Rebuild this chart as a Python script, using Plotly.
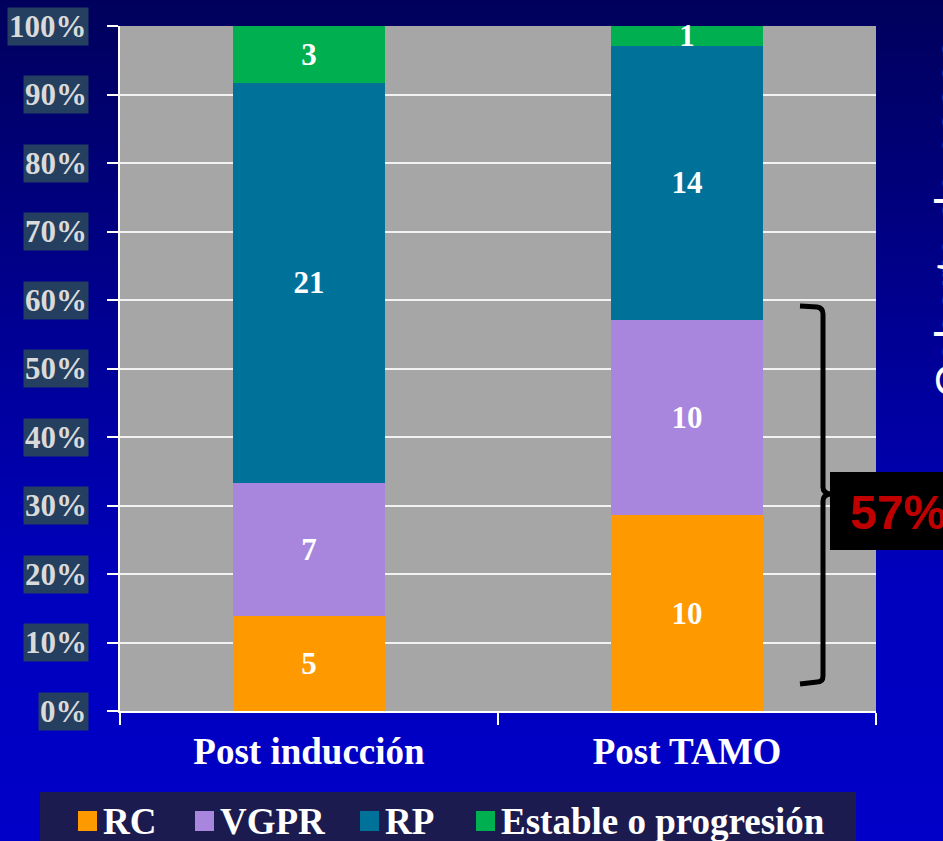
import base64
import plotly.graph_objects as go

# ---- data ----
categories = ["Post inducción", "Post TAMO"]
series_names = ["RC", "VGPR", "RP", "Estable o progresión"]
rc_values = [5, 10]
vgpr_values = [7, 10]
rp_values = [21, 14]
estable_values = [3, 1]
y_tick_values = [0, 10, 20, 30, 40, 50, 60, 70, 80, 90, 100]
y_tick_labels = ["0%", "10%", "20%", "30%", "40%", "50%", "60%", "70%", "80%", "90%", "100%"]
bracket_label = "57%"
side_text = "Cohorte de casos"

colors = ["#FF9900", "#A886DD", "#00729A", "#00AF50"]
all_values = [rc_values, vgpr_values, rp_values, estable_values]

W, H = 943, 841
ML, MR, MT, MB = 120, 67, 26, 130
PW, PH = W - ML - MR, H - MT - MB


def px(x):
    return (x - ML) / PW


def py(y):
    return (H - MB - y) / PH


serif = "Liberation Serif, Times New Roman, serif"
sans = "Liberation Sans, Arial, sans-serif"

fig = go.Figure()
for name, vals, col in zip(series_names, all_values, colors):
    fig.add_trace(go.Bar(
        x=categories, y=vals, name=name, marker=dict(color=col, line=dict(width=0)),
        text=[str(v) for v in vals], textposition="inside", insidetextanchor="middle",
        textangle=0, textfont=dict(family=serif, size=31, color="white", weight="bold"),
        width=0.4, showlegend=False, hoverinfo="skip", cliponaxis=False,
    ))

# background gradient (whole page)
svg = ('<svg xmlns="http://www.w3.org/2000/svg" width="943" height="841">'
       '<defs><linearGradient id="g" x1="0" y1="0" x2="0" y2="1">'
       '<stop offset="0" stop-color="#00005C"/>'
       '<stop offset="0.7" stop-color="#0000BE"/>'
       '<stop offset="1" stop-color="#0000C8"/>'
       '</linearGradient></defs>'
       '<rect width="943" height="841" fill="url(#g)"/></svg>')
src = "data:image/svg+xml;base64," + base64.b64encode(svg.encode()).decode()

annotations = []
# y tick labels with boxed background
for v, lab in zip(y_tick_values, y_tick_labels):
    annotations.append(dict(
        x=px(89), xref="paper", y=v, yref="y", xanchor="right", yanchor="middle",
        text="<b>%s</b>" % lab, showarrow=False, bgcolor="#243F60", borderpad=1,
        font=dict(family=serif, size=31, color="#DADADA"),
    ))

# 57% label
annotations.append(dict(
    x=px(848), xref="paper", y=py(512), yref="paper", xanchor="left", yanchor="middle",
    text="<b>%s</b>" % bracket_label, showarrow=False,
    font=dict(family=sans, size=48, color="#C00000"),
))
# clipped rotated side text
annotations.append(dict(
    x=px(952), xref="paper", y=py(218), yref="paper", xanchor="center", yanchor="middle",
    text=side_text, textangle=-90, showarrow=False,
    font=dict(family=sans, size=46, color="white"),
))

shapes = []
# gray plot area
shapes.append(dict(type="rect", xref="x domain", yref="y domain", x0=0, x1=1, y0=0, y1=1,
                   fillcolor="#A6A6A6", line=dict(width=0), layer="below"))
# bracket
brace = (f"M {px(800)},{py(306)} L {px(817)},{py(307)} Q {px(823)},{py(308)} {px(823)},{py(314)} "
         f"L {px(823)},{py(487)} Q {px(823)},{py(493)} {px(830)},{py(494)} "
         f"Q {px(823)},{py(495)} {px(823)},{py(501)} L {px(823)},{py(676)} "
         f"Q {px(823)},{py(682)} {px(817)},{py(682)} L {px(800)},{py(684)}")
shapes.append(dict(type="path", path=brace, xref="paper", yref="paper",
                   line=dict(color="black", width=5)))
# black box for 57%
shapes.append(dict(type="rect", xref="paper", yref="paper", x0=px(830), x1=px(960),
                   y0=py(550), y1=py(472), fillcolor="black", line=dict(width=0)))

# custom legend
shapes.append(dict(type="rect", xref="paper", yref="paper", x0=px(40), x1=px(856),
                   y0=py(850), y1=py(792), fillcolor="#1C1B4F", line=dict(width=0), layer="below"))
legend_swatch_x = [78, 195, 360, 476]
for name, col, sx in zip(series_names, colors, legend_swatch_x):
    shapes.append(dict(type="rect", xref="paper", yref="paper", x0=px(sx), x1=px(sx + 19),
                       y0=py(831), y1=py(811), fillcolor=col, line=dict(width=0)))
    annotations.append(dict(
        x=px(sx + 23), xref="paper", y=py(821), yref="paper", xanchor="left", yanchor="middle",
        text="<b>%s</b>" % name, showarrow=False,
        font=dict(family=serif, size=37, color="white"),
    ))

fig.update_layout(
    width=W, height=H,
    margin=dict(l=ML, r=MR, t=MT, b=MB, autoexpand=False),
    barmode="stack", barnorm="percent",
    paper_bgcolor="#00009A", plot_bgcolor="#A6A6A6",
    uniformtext=dict(minsize=31, mode="show"),
    showlegend=False,
    images=[dict(source=src, xref="paper", yref="paper", x=px(0), y=py(0),
                 sizex=W / PW, sizey=H / PH, xanchor="left", yanchor="top",
                 sizing="stretch", layer="below")],
    annotations=annotations,
    shapes=shapes,
    xaxis=dict(
        type="category", range=[-0.5, 1.5], tickson="boundaries",
        ticks="outside", ticklen=12, tickwidth=2, tickcolor="white",
        showline=True, linecolor="white", linewidth=2, showgrid=False,
        tickfont=dict(family=serif, size=37, color="white"),
        tickvals=categories, ticktext=["<b>%s</b>" % c for c in categories],
        ticklabelstandoff=7,
    ),
    yaxis=dict(
        range=[0, 100], tickvals=y_tick_values, showticklabels=False,
        ticks="outside", ticklen=11, tickwidth=2, tickcolor="white",
        showline=True, linecolor="white", linewidth=2,
        showgrid=True, gridcolor="#F2F2F2", gridwidth=2, zeroline=False,
    ),
)

fig.write_html(
    "out.html",
    config={"displayModeBar": False},
    post_script="document.body.style.margin='0';document.body.style.overflow='hidden';",
)
